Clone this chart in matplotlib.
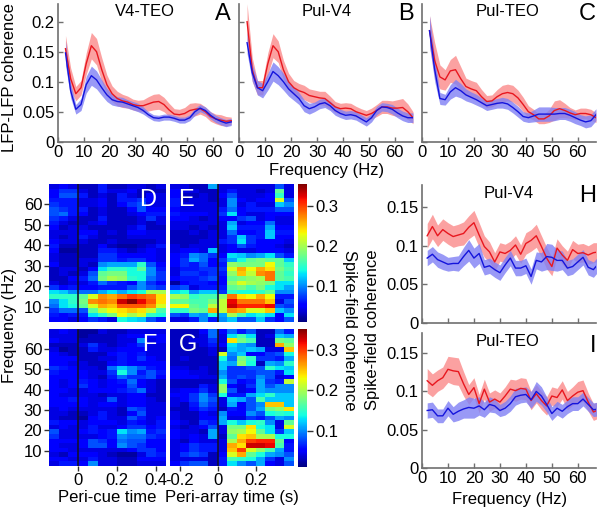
#!/usr/bin/env python3
import numpy as np
import matplotlib
matplotlib.use('Agg')
import matplotlib.pyplot as plt

plt.rcParams['font.family'] = ['Liberation Sans', 'DejaVu Sans']

W, H = 600, 511
RED_LINE, RED_FILL = '#e8171f', '#fb8a8a'
BLUE_LINE, BLUE_FILL = '#1414dc', '#8080f4'
AXC = '#707070'

f_lfp = list(range(3, 68, 2))
a_red = [.155,.105,.08,.09,.13,.16,.15,.12,.095,.08,.072,.068,.066,.062,.06,.06,.063,.066,.067,.062,.053,.046,.045,.047,.052,.054,.055,.05,.042,.038,.036,.034,.035]
a_red_sd = [.022,.018,.012,.012,.018,.022,.022,.02,.016,.013,.012,.011,.01,.009,.009,.01,.012,.013,.013,.012,.011,.009,.009,.01,.012,.011,.009,.008,.008,.008,.009,.008,.006]
a_blue = [.148,.085,.054,.062,.095,.11,.103,.09,.078,.07,.067,.066,.063,.06,.057,.052,.045,.04,.039,.041,.041,.039,.036,.036,.04,.05,.056,.052,.044,.038,.034,.031,.033]
a_blue_sd = [.02,.012,.008,.01,.014,.016,.015,.013,.011,.009,.008,.008,.007,.007,.007,.006,.005,.005,.005,.005,.005,.005,.005,.005,.005,.006,.006,.006,.006,.006,.006,.006,.006]
b_red = [.2,.12,.09,.09,.13,.16,.15,.12,.1,.09,.085,.082,.077,.075,.073,.072,.065,.058,.055,.056,.055,.05,.047,.044,.047,.052,.058,.058,.056,.056,.057,.05,.04]
b_red_sd = [.03,.02,.012,.012,.018,.02,.018,.016,.014,.012,.012,.012,.011,.011,.011,.012,.011,.009,.009,.009,.009,.009,.008,.008,.009,.01,.011,.011,.012,.014,.015,.013,.01]
b_blue = [.165,.115,.09,.085,.1,.117,.11,.1,.088,.08,.072,.06,.055,.058,.063,.065,.06,.052,.047,.044,.045,.043,.038,.033,.04,.052,.058,.057,.054,.048,.043,.04,.04]
b_blue_sd = [.018,.014,.012,.012,.014,.016,.015,.014,.012,.011,.01,.01,.009,.008,.008,.008,.008,.008,.007,.007,.007,.007,.007,.007,.007,.007,.007,.007,.008,.008,.008,.008,.008]
c_red = [.185,.135,.108,.103,.118,.12,.105,.092,.088,.085,.075,.067,.068,.075,.08,.082,.08,.073,.062,.05,.045,.038,.038,.043,.052,.055,.052,.048,.045,.047,.047,.045,.04]
c_red_sd = [.025,.03,.02,.017,.019,.024,.02,.014,.014,.014,.012,.01,.01,.012,.014,.014,.014,.013,.012,.01,.009,.008,.008,.011,.016,.015,.012,.009,.008,.009,.009,.009,.008]
c_blue = [.185,.12,.072,.07,.083,.09,.085,.078,.074,.07,.065,.06,.062,.064,.065,.063,.057,.05,.042,.04,.043,.046,.046,.046,.046,.047,.047,.044,.04,.036,.033,.035,.045]
c_blue_sd = [.025,.02,.01,.009,.012,.014,.012,.01,.009,.009,.008,.008,.008,.008,.009,.009,.009,.009,.008,.008,.01,.012,.012,.012,.011,.01,.01,.01,.01,.009,.01,.01,.01]

f_sfc = list(range(2, 69, 2))
h_red = [.113,.125,.113,.121,.116,.112,.114,.116,.124,.13,.114,.099,.092,.079,.092,.09,.094,.101,.089,.103,.107,.113,.099,.084,.073,.097,.088,.081,.095,.09,.091,.088,.091,.092]
h_red_sd = [.016,.016,.014,.014,.014,.014,.014,.015,.015,.016,.016,.014,.013,.012,.012,.012,.012,.012,.012,.014,.014,.015,.014,.014,.012,.012,.012,.012,.012,.012,.012,.012,.013,.012]
h_blue = [.084,.089,.082,.079,.076,.077,.077,.086,.094,.084,.09,.072,.074,.069,.065,.075,.084,.071,.071,.074,.06,.081,.079,.086,.085,.081,.081,.071,.073,.079,.085,.072,.069,.077]
h_blue_sd = [.01,.01,.01,.01,.009,.009,.01,.012,.014,.013,.013,.01,.01,.01,.01,.01,.01,.01,.01,.01,.01,.011,.012,.017,.017,.014,.012,.01,.01,.01,.01,.01,.01,.01]
i_red = [.114,.108,.114,.118,.129,.127,.126,.11,.096,.105,.084,.103,.086,.09,.086,.094,.103,.101,.104,.103,.088,.097,.088,.081,.094,.092,.102,.088,.094,.099,.101,.086,.073,.076]
i_red_sd = [.016,.015,.014,.014,.017,.018,.018,.016,.013,.013,.012,.013,.012,.012,.012,.012,.013,.014,.014,.014,.012,.012,.012,.012,.012,.012,.012,.012,.012,.014,.014,.012,.011,.011]
i_blue = [.075,.076,.068,.068,.078,.07,.074,.077,.079,.078,.081,.076,.083,.081,.075,.078,.084,.093,.095,.096,.089,.1,.094,.083,.071,.078,.074,.08,.084,.084,.09,.083,.076,.077]
i_blue_sd = [.01,.01,.009,.009,.01,.01,.012,.012,.014,.013,.012,.01,.01,.009,.008,.009,.01,.011,.01,.01,.011,.013,.012,.01,.009,.009,.009,.009,.009,.009,.009,.009,.009,.009]

# values in hundredths of coherence, top row = highest frequency
d_map = [
 [4,5,4,3,3,6,3,3,4,4,3,4],[5,7,7,4,3,6,4,4,5,3,3,3],[5,8,8,6,3,4,3,6,4,3,5,4],
 [6,6,6,4,4,5,3,6,6,7,5,4],[7,6,6,4,4,5,3,5,7,8,4,4],[8,7,6,6,3,4,3,3,5,8,5,5],
 [8,9,6,5,3,4,3,3,4,5,6,6],[7,6,4,3,3,6,3,3,3,4,7,4],[6,4,3,3,4,5,3,3,3,4,3,4],
 [5,3,4,4,3,3,3,3,4,6,3,3],[4,4,4,5,5,3,4,3,5,5,4,4],[4,3,4,6,4,3,3,3,4,4,4,4],
 [5,4,4,4,3,3,4,3,3,3,3,4],[6,3,3,3,3,5,3,2,2,3,4,6],[5,2,2,3,3,6,6,4,3,4,5,4],
 [4,3,3,3,3,7,7,5,5,5,5,4],[4,3,3,4,4,7,7,6,7,7,5,4],[5,3,3,4,3,10,11,11,11,15,8,5],
 [3,4,4,3,5,13,15,15,14,17,10,6],[3,4,3,4,8,17,18,18,14,14,10,7],[3,3,5,6,9,18,20,19,15,14,9,7],
 [4,3,4,4,6,9,7,6,5,10,7,5],[7,5,6,5,5,6,6,6,8,10,8,7],[13,12,10,9,9,11,13,11,13,14,20,20],
 [15,15,15,17,22,27,26,28,30,29,28,24],[10,13,15,18,27,28,27,33,35,32,29,24],[9,13,14,17,22,26,25,29,29,29,27,22],
 [7,9,9,8,17,21,23,24,25,24,21,16],[6,5,6,6,13,15,18,23,20,22,15,14],[5,5,4,5,7,6,4,14,13,12,8,6]]
e_map = [
 [4,4,3,3,11,4,4,4,4,4,4,8,4],[5,4,4,3,3,4,6,4,4,3,4,17,4],[5,3,3,4,3,5,8,4,4,4,5,15,4],
 [6,3,4,4,3,4,10,5,4,5,5,22,8],[6,4,4,4,4,4,10,4,6,4,4,12,10],[5,4,4,4,4,6,9,5,6,6,6,8,8],
 [6,5,5,5,4,7,13,5,4,4,5,5,5],[5,5,4,3,4,5,5,7,8,4,5,4,4],[4,4,4,4,4,4,11,4,5,5,9,4,4],
 [4,4,3,4,3,4,12,6,6,6,11,5,5],[3,3,4,3,4,4,9,5,5,6,12,6,6],[3,3,3,3,4,4,7,12,7,6,12,5,5],
 [3,3,3,4,4,6,7,13,7,5,5,5,4],[4,3,4,4,4,4,5,8,6,5,5,4,3],[4,5,5,4,12,4,5,4,4,5,5,5,4],
 [5,6,10,9,7,5,13,12,10,11,13,8,6],[5,7,11,9,5,7,11,14,17,18,17,17,12],[5,7,6,8,5,6,19,18,18,18,23,17,15],
 [4,6,6,7,7,7,22,26,23,26,24,18,16],[4,7,7,6,7,6,19,25,21,27,28,17,15],[5,6,6,7,8,5,17,18,19,20,28,17,16],
 [2,5,6,6,5,5,19,22,20,19,18,13,13],[7,8,4,6,6,6,17,18,16,18,14,13,11],[13,14,10,12,12,7,15,14,14,15,17,10,10],
 [20,19,15,16,16,19,28,24,23,26,23,6,6],[17,17,16,16,18,21,32,28,28,28,25,4,8],[23,23,17,16,21,21,33,31,31,31,32,8,7],
 [15,15,18,17,26,21,27,26,22,22,25,12,10],[8,7,11,10,14,11,20,16,13,14,13,5,13],[4,4,6,10,6,10,12,8,8,12,7,5,8]]
f_map = [
 [4,5,4,2,2,4,3,3,4,4,4,4],[4,4,4,2,3,3,3,4,5,5,5,5],[5,4,4,3,3,3,3,4,4,10,4,5],
 [3,3,3,4,7,4,3,4,5,7,4,4],[4,2,3,3,6,4,4,5,5,5,4,4],[5,4,3,3,3,3,5,6,5,6,4,4],
 [5,5,5,3,3,4,4,6,5,7,5,4],[5,5,4,4,3,3,5,6,5,5,5,5],[7,6,5,4,4,3,9,12,10,8,6,5],
 [6,5,5,5,4,4,7,14,10,6,8,6],[5,5,5,5,4,3,6,9,7,7,8,5],[5,4,5,6,5,4,5,6,9,5,4,3],
 [5,4,5,7,5,4,5,5,8,5,4,3],[5,5,4,4,5,5,5,6,7,9,4,3],[5,4,4,4,4,3,4,4,5,5,3,3],
 [5,5,6,5,4,4,8,4,5,5,4,3],[5,5,5,5,4,5,5,4,5,5,4,4],[4,5,4,4,4,4,4,3,8,7,4,4],
 [4,4,3,3,4,6,4,3,5,8,4,4],[4,3,3,2,5,6,4,4,8,6,4,5],[6,5,5,4,5,5,5,4,6,5,4,6],
 [4,5,4,4,6,4,4,5,7,7,5,6],[8,4,4,5,6,5,6,13,10,11,6,7],[7,4,4,4,4,5,6,10,9,9,7,6],
 [5,5,5,5,8,7,5,9,8,8,5,5],[5,4,4,5,8,8,5,10,8,7,5,5],[5,5,4,4,4,4,4,4,5,7,7,5],
 [4,3,5,5,5,4,3,2,2,4,7,6],[5,5,4,4,6,4,4,3,3,5,5,5],[4,6,6,5,10,4,4,3,3,4,4,4]]
g_map = [
 [3,3,3,5,9,5,9,6,8,3,3,9,6],[3,3,3,4,9,4,13,16,13,3,4,12,11],[3,3,4,4,7,4,24,18,16,3,3,18,17],
 [3,3,3,4,6,5,13,11,10,3,3,26,19],[3,3,3,3,4,3,12,11,12,11,4,4,25],[3,3,3,3,4,22,10,12,5,5,7,8,14],
 [3,4,3,3,3,14,9,18,15,7,7,6,11],[3,3,3,3,3,12,11,19,14,3,11,10,15],[4,4,3,4,3,12,7,7,8,8,15,13,12],
 [5,5,4,4,3,10,7,7,7,8,8,6,13],[5,5,5,4,4,11,7,8,7,10,8,4,5],[3,3,3,3,3,14,8,5,6,11,7,6,21],
 [3,3,3,6,4,19,5,4,7,11,8,10,10],[4,5,5,7,4,19,8,4,5,11,10,10,10],[5,5,7,10,7,14,6,6,11,13,15,12,12],
 [4,5,7,10,8,4,12,11,8,16,12,12,12],[4,3,6,9,7,4,11,5,8,10,25,25,12],[3,3,5,7,6,3,6,5,8,11,18,19,24],
 [4,3,3,5,4,10,5,5,10,8,14,15,14],[4,3,3,5,5,11,4,4,7,6,8,11,10],[5,4,3,7,6,11,14,12,14,15,10,4,17],
 [4,3,4,5,8,4,18,18,24,14,13,4,22],[5,4,4,3,11,4,19,20,23,17,13,7,12],[5,4,5,4,11,3,17,24,25,20,20,14,14],
 [4,3,5,4,4,4,20,26,30,31,31,17,5],[4,5,7,6,6,4,26,24,33,33,32,16,6],[4,5,7,6,6,4,25,30,22,19,16,11,6],
 [4,7,8,7,3,5,22,26,17,14,11,10,8],[4,4,4,4,3,6,16,15,14,11,7,4,10],[5,7,8,8,3,6,13,10,8,11,5,4,8]]

fig = plt.figure(figsize=(W/100, H/100), dpi=100)

def pax(l, t, r, b):
    # axes from pixel box
    return fig.add_axes([l/W, 1-b/H, (r-l)/W, (b-t)/H])

def txt(x, y, s, size=12, **kw):
    kw.setdefault('ha', 'center')
    kw.setdefault('va', 'center')
    fig.text(x/W, 1-y/H, s, fontsize=size, **kw)

def curves(ax, f, red, red_sd, blue, blue_sd):
    f = np.array(f)
    for m, s, lc, fc in [(red, red_sd, RED_LINE, RED_FILL), (blue, blue_sd, BLUE_LINE, BLUE_FILL)]:
        m = np.array(m)
        s = np.array(s)
        ax.fill_between(f, m-s, m+s, color=fc, alpha=0.8, lw=0)
    for m, lc in [(red, RED_LINE), (blue, BLUE_LINE)]:
        ax.plot(f, m, color=lc, lw=1.0)

def style_line(ax, xlim, ylim, xt, yt, xlab=True, ylab=True):
    ax.set_xlim(xlim)
    ax.set_ylim(ylim)
    ax.spines['top'].set_visible(False)
    ax.spines['right'].set_visible(False)
    for sp in ['left', 'bottom']:
        ax.spines[sp].set_color(AXC)
        ax.spines[sp].set_linewidth(1.2)
    ax.set_xticks(xt)
    ax.set_yticks(yt)
    ax.tick_params(direction='in', length=3.6, width=1, color=AXC, labelsize=12, pad=2.5)
    ax.set_xticklabels([str(v) for v in xt] if xlab else [])
    ax.set_yticklabels(['%g' % v for v in yt] if ylab else [])
    ax.patch.set_alpha(0)

lfp_x = [0, 10, 20, 30, 40, 50, 60]
lfp_y = [0, .05, .1, .15, .2]
ax = pax(57.7, 4, 232, 141.7)
curves(ax, f_lfp, a_red, a_red_sd, a_blue, a_blue_sd)
style_line(ax, (0, 67.3), (0, .2295), lfp_x, lfp_y)
ax = pax(239.3, 4, 413, 141.7)
curves(ax, f_lfp, b_red, b_red_sd, b_blue, b_blue_sd)
style_line(ax, (0, 67), (0, .2295), lfp_x, lfp_y, ylab=False)
ax = pax(421.7, 4, 596, 141.7)
curves(ax, f_lfp, c_red, c_red_sd, c_blue, c_blue_sd)
style_line(ax, (0, 67), (0, .2295), lfp_x, lfp_y, ylab=False)

sfc_y = [0, .05, .1, .15]
ax = pax(422, 185, 596, 322.7)
curves(ax, f_sfc, h_red, h_red_sd, h_blue, h_blue_sd)
style_line(ax, (0, 67), (0, .179), lfp_x, sfc_y, xlab=False)
ax = pax(422, 332.7, 596, 467.7)
curves(ax, f_sfc, i_red, i_red_sd, i_blue, i_blue_sd)
style_line(ax, (0, 67), (0, .177), lfp_x, sfc_y)

def heat(box, data, xlim, xt, yl):
    ax = pax(*box)
    im = ax.imshow(np.array(data)/100., cmap='jet', vmin=.01, vmax=.353, aspect='auto',
                   interpolation='nearest', extent=[xlim[0], xlim[1], 2.7, 69.6])
    ax.axvline(0, color='#101030', lw=1.2)
    ax.set_xlim(xlim)
    ax.set_ylim(2.7, 69.6)
    for sp in ax.spines.values():
        sp.set_visible(False)
    ax.set_xticks(xt)
    ax.set_xticklabels(['%g' % v for v in xt])
    ax.set_yticks([10, 20, 30, 40, 50, 60] if yl else [])
    ax.tick_params(direction='out', length=3.6, width=1, color='#333333', labelsize=12, pad=1.5)
    return im

heat((49.3, 184.3, 165.3, 321.7), d_map, (-.148, .45), [], True)
heat((169.7, 184.3, 293.7, 321.7), e_map, (-.253, .396), [], False)
im1 = heat((49.3, 329.3, 165.3, 465.7), f_map, (-.148, .45), [0, .2, .4], True)
im2 = heat((169.7, 329.3, 293.7, 465.7), g_map, (-.253, .396), [-.2, 0, .2], False)

for im, box in [(im1, (298, 184.3, 307.3, 321.7)), (im2, (298, 329, 307.3, 466.7))]:
    cax = pax(*box)
    cb = fig.colorbar(im, cax=cax)
    cb.set_ticks([.1, .2, .3])
    cb.set_ticklabels(['0.1', '0.2', '0.3'])
    cb.outline.set_visible(False)
    cax.tick_params(length=4, width=1, color='#333333', labelsize=12, pad=1.5)

txt(145, 11, 'V4-TEO')
txt(327, 11, 'Pul-V4')
txt(508, 11, 'Pul-TEO')
txt(509, 194, 'Pul-V4')
txt(508, 342, 'Pul-TEO')
for x, y, s, c in [(223, 14, 'A', 'k'), (406, 14, 'B', 'k'), (587, 14, 'C', 'k'),
                   (148, 200, 'D', 'w'), (186, 200, 'E', 'w'), (149, 345, 'F', 'w'), (188, 345, 'G', 'w'),
                   (588, 196, 'H', 'k'), (593, 346, 'I', 'k')]:
    txt(x, y, s, 17, color=c)
txt(10, 78, 'LFP-LFP coherence')
fig.texts[-1].set_rotation(90)
txt(327, 170, 'Frequency (Hz)')
txt(10, 325, 'Frequency (Hz)', rotation=90)
txt(107, 497, 'Peri-cue time')
txt(232, 497, 'Peri-array time (s)')
txt(349, 330, 'Spike-field coherence', rotation=270)
txt(373, 330, 'Spike-field coherence', rotation=90)
txt(510, 499, 'Frequency (Hz)')

plt.savefig('out.png', dpi=100)
